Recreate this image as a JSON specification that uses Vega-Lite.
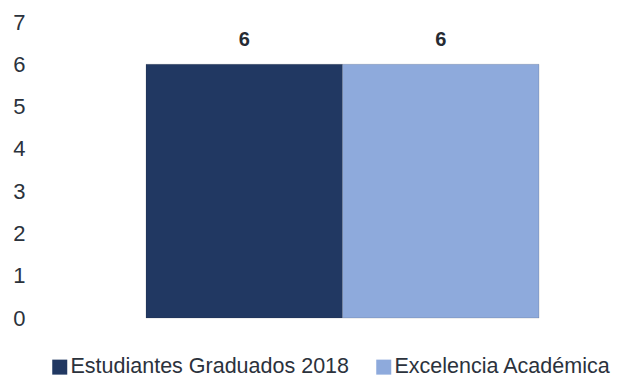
{
  "$schema": "https://vega.github.io/schema/vega-lite/v6.json",
  "autosize": {"type": "none"},
  "padding": {"left": 68, "top": 22, "right": 0, "bottom": 61},
  "width": 549,
  "height": 296,
  "background": "white",
  "config": {
    "view": {"stroke": null},
    "font": "Liberation Sans"
  },
  "data": {
    "values": [
      {"serie": "Estudiantes Graduados 2018", "valor": 6},
      {"serie": "Excelencia Académica", "valor": 6}
    ]
  },
  "encoding": {
    "x": {
      "field": "serie",
      "type": "nominal",
      "sort": ["Estudiantes Graduados 2018", "Excelencia Académica"],
      "scale": {"paddingInner": 0, "paddingOuter": 0.397},
      "axis": null
    },
    "y": {
      "field": "valor",
      "type": "quantitative",
      "scale": {"domain": [0, 7], "nice": false},
      "axis": {
        "values": [0, 1, 2, 3, 4, 5, 6, 7],
        "title": null,
        "grid": false,
        "domain": false,
        "ticks": false,
        "labelPadding": 43,
        "labelFontSize": 22,
        "labelColor": "#2B323C",
        "labelFont": "Liberation Sans"
      }
    }
  },
  "layer": [
    {
      "mark": {"type": "bar", "stroke": "#1a1a1a", "strokeOpacity": 0.15, "strokeWidth": 1},
      "encoding": {
        "color": {
          "field": "serie",
          "type": "nominal",
          "sort": ["Estudiantes Graduados 2018", "Excelencia Académica"],
          "scale": {"range": ["#213862", "#8EAADC"]},
          "legend": {
            "title": null,
            "orient": "none",
            "direction": "horizontal",
            "legendX": -19,
            "legendY": 334,
            "padding": 0,
            "symbolType": "square",
            "symbolSize": 225,
            "symbolStrokeWidth": 0,
            "labelOffset": 0,
            "columnPadding": 23,
            "labelFontSize": 21.5,
            "labelColor": "#2B323C",
            "labelFont": "Liberation Sans",
            "labelLimit": 400
          }
        }
      }
    },
    {
      "mark": {"type": "text", "dy": -24, "baseline": "middle", "fontWeight": "bold", "fontSize": 20, "color": "#262B33"},
      "encoding": {
        "text": {"field": "valor", "type": "quantitative"}
      }
    }
  ]
}
